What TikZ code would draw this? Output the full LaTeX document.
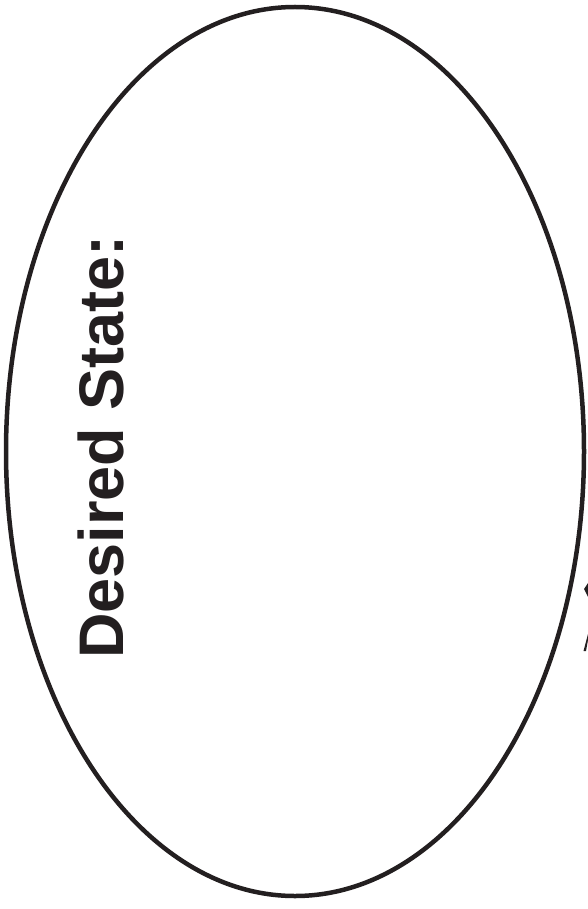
\documentclass[tikz,border=0pt]{standalone}
\usepackage{fontspec}
\newfontfamily\labelfont{Liberation Sans}
\usetikzlibrary{shapes.geometric}
\definecolor{inkblack}{HTML}{231F20}
\tikzstyle{stateoval} = [
    ellipse,
    inner sep=0pt,
    minimum width=578pt,
    minimum height=889pt,
    line width=4.5pt,
    draw=inkblack
]
\tikzstyle{statelabel} = [
    rotate=90,
    anchor=base west,
    inner sep=0pt,
    text=inkblack,
    font=\labelfont\bfseries\fontsize{63}{63}\selectfont
]
\tikzstyle{fragment} = [fill=inkblack, draw=none]

\begin{document}
\begin{tikzpicture}[x=1pt, y=-1pt]
\useasboundingbox (0,0) rectangle (588,909);

\node (desired) [stateoval] at (295,451.5) {};

\node (desiredtext) [statelabel] at (123,659) {Desired State:};

% clipped piece at the right edge
\fill [fragment] (584,589) -- (588,583) -- (588,597) -- cycle;
\fill [fragment] (588,634) -- (588,640) -- (586,651) -- (583.5,651) -- cycle;

\end{tikzpicture}
\end{document}
